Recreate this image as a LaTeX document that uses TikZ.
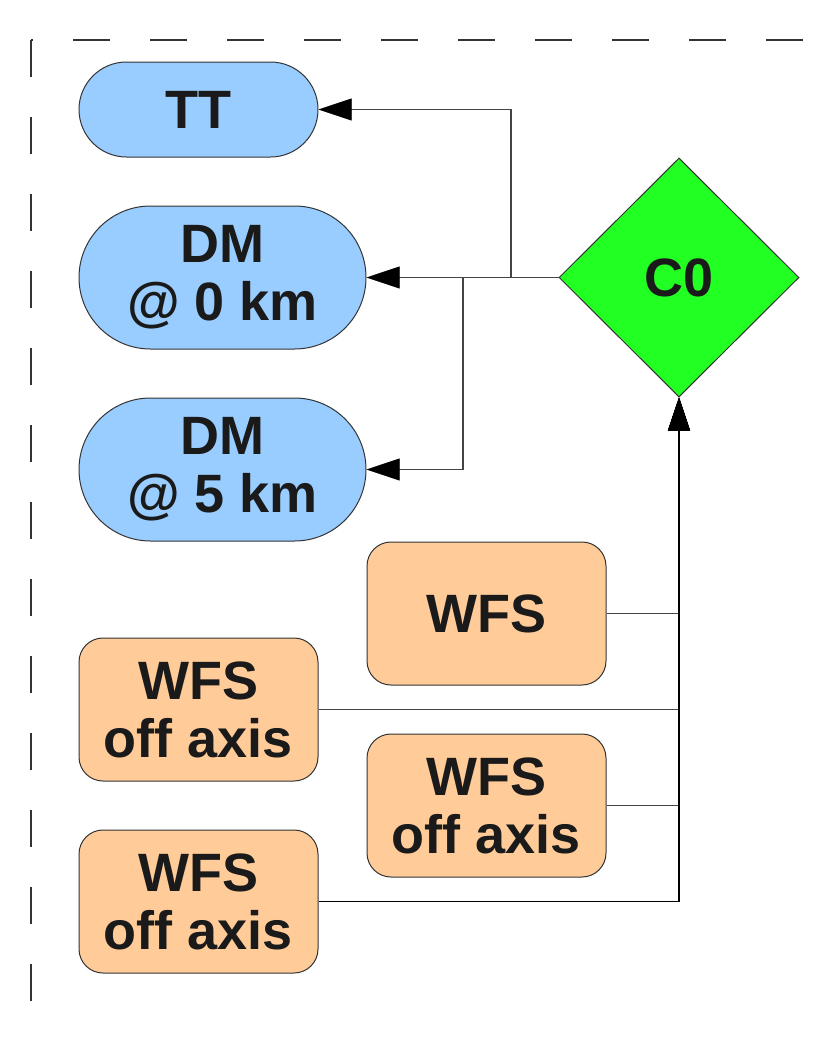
\documentclass[tikz,border=0pt]{standalone}
\usepackage{fontspec}
\setmainfont{Liberation Sans}
\usetikzlibrary{arrows.meta,shapes.geometric}
\definecolor{pillblue}{HTML}{99CCFF}
\definecolor{boxorange}{HTML}{FFCC99}
\definecolor{cgreen}{HTML}{22FF22}
\definecolor{txt}{HTML}{1A1A1A}
\definecolor{edge}{HTML}{333333}
\definecolor{conncol}{HTML}{444444}
\tikzset{
  lbl/.style={font=\fontsize{54}{58}\selectfont\bfseries, text=txt, align=center, inner sep=0pt},
  pill/.style={lbl, draw=edge, line width=1pt, fill=pillblue, rectangle, minimum width=#1},
  wfsbox/.style={lbl, draw=edge, line width=1pt, fill=boxorange, rectangle, rounded corners=24pt, minimum width=239pt, minimum height=143pt},
  decision/.style={lbl, draw=edge, line width=1pt, fill=cgreen, diamond, minimum width=240pt, minimum height=239pt},
  conn/.style={draw=conncol, line width=1.3pt},
  arr/.style={conn, -{Triangle[length=33pt,width=22pt,fill=black,color=black,line width=0.5pt]}},
  uparr/.style={arr, draw=black, line width=1.5pt},
  frame/.style={draw=edge, line width=1.5pt, dash pattern=on 37pt off 40pt}
}
\begin{document}
\begin{tikzpicture}[x=1pt,y=-1pt]
\useasboundingbox (0,0) rectangle (835,1037);
% dashed frame
\draw[frame, dash phase=35pt] (31,40) -- (835,40);
\draw[frame] (31,40) -- (31,1037);
% nodes
\node[pill=239pt, minimum height=95pt, rounded corners=47.5pt] (tt) at (198.5,109.5) {TT};
\node[pill=287pt, minimum height=143pt, rounded corners=71.5pt] (dm0) at (222.5,277.5) {DM\\@ 0 km};
\node[pill=287pt, minimum height=143pt, rounded corners=71.5pt] (dm5) at (222.5,469.5) {DM\\@ 5 km};
\node[decision] (c0) at (679,277.5) {C0};
\node[wfsbox] (wfs) at (486.5,613.5) {WFS};
\node[wfsbox] (off1) at (198.5,709.5) {WFS\\off axis};
\node[wfsbox] (off2) at (486.5,805.5) {WFS\\off axis};
\node[wfsbox] (off3) at (198.5,901.5) {WFS\\off axis};
% junctions
\coordinate (j1) at (511,277.5);
\coordinate (j2) at (463,277.5);
% connectors
\draw[arr] (c0.west) -- (j1) |- (tt.east);
\draw[arr] (c0.west) -- (dm0.east);
\draw[arr] (c0.west) -- (j2) |- (dm5.east);
\draw[arr] (wfs.east) -| (c0.south);
\draw[arr] (off1.east) -| (c0.south);
\draw[arr] (off2.east) -| (c0.south);
\draw[uparr] (off3.east) -| (c0.south);
\end{tikzpicture}
\end{document}
